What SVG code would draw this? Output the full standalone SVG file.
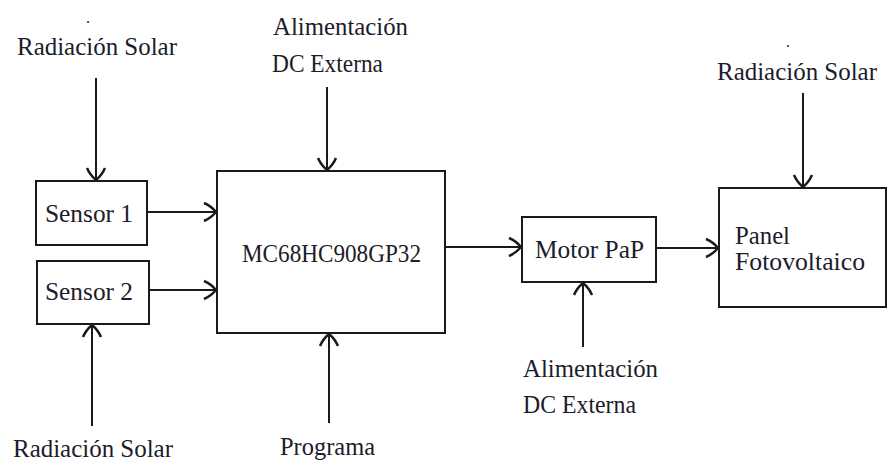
<svg xmlns="http://www.w3.org/2000/svg" width="891" height="461" viewBox="0 0 891 461">
<style>
.box{fill:#fff;stroke:#1a1a1a;stroke-width:2}
.ln{stroke:#1a1a1a;stroke-width:2;fill:none;marker-end:url(#ah)}
.t{font-family:'Liberation Serif','Times New Roman',serif;font-size:25px;fill:#1c1c2a}
</style>
<defs>
<marker id="ah" markerUnits="userSpaceOnUse" markerWidth="24" markerHeight="24" refX="13" refY="10" orient="auto" viewBox="0 0 24 20">
<path d="M1,1 Q8,4 13,10 Q8,16 1,19" fill="none" stroke="#1a1a1a" stroke-width="2.5"/>
</marker>
</defs>
<rect width="891" height="461" fill="#fff"/>
<g id="connectors">
<line class="ln" x1="96" y1="78" x2="96" y2="180"/>
<line class="ln" x1="327" y1="87" x2="327" y2="170"/>
<line class="ln" x1="803" y1="93" x2="803" y2="187"/>
<line class="ln" x1="147" y1="212" x2="216" y2="212"/>
<line class="ln" x1="149" y1="290" x2="216" y2="290"/>
<line class="ln" x1="92" y1="426" x2="92" y2="325"/>
<line class="ln" x1="329" y1="423" x2="329" y2="334"/>
<line class="ln" x1="445" y1="247" x2="521" y2="247"/>
<line class="ln" x1="656" y1="248" x2="718" y2="248"/>
<line class="ln" x1="583" y1="347" x2="583" y2="283"/>
</g>
<g id="sensor1">
<rect class="box" x="36" y="181" width="111" height="64"/>
<text class="t" x="45" y="222" textLength="88" lengthAdjust="spacingAndGlyphs">Sensor 1</text>
</g>
<g id="sensor2">
<rect class="box" x="37" y="261" width="112" height="63"/>
<text class="t" x="45" y="300" textLength="88" lengthAdjust="spacingAndGlyphs">Sensor 2</text>
</g>
<g id="mcu">
<rect class="box" x="217" y="171" width="228" height="162"/>
<text class="t" x="242" y="262" textLength="179" lengthAdjust="spacingAndGlyphs">MC68HC908GP32</text>
</g>
<g id="motor">
<rect class="box" x="522" y="217" width="134" height="65"/>
<text class="t" x="535" y="258" textLength="109" lengthAdjust="spacingAndGlyphs">Motor PaP</text>
</g>
<g id="panel">
<rect class="box" x="719" y="188" width="167" height="119"/>
<text class="t" x="735" y="244" textLength="55" lengthAdjust="spacingAndGlyphs">Panel</text>
<text class="t" x="735" y="270" textLength="130" lengthAdjust="spacingAndGlyphs">Fotovoltaico</text>
</g>
<g id="rad-top-left">
<text class="t" x="86" y="23" style="font-size:16px">.</text>
<text class="t" x="17" y="55" textLength="160" lengthAdjust="spacingAndGlyphs">Radiación Solar</text>
</g>
<g id="alim-top">
<text class="t" x="273" y="35" textLength="135" lengthAdjust="spacingAndGlyphs">Alimentación</text>
<text class="t" x="272" y="72" textLength="111" lengthAdjust="spacingAndGlyphs">DC Externa</text>
</g>
<g id="rad-top-right">
<text class="t" x="786" y="47" style="font-size:16px">.</text>
<text class="t" x="717" y="80" textLength="160" lengthAdjust="spacingAndGlyphs">Radiación Solar</text>
</g>
<g id="rad-bottom">
<text class="t" x="13" y="457" textLength="160" lengthAdjust="spacingAndGlyphs">Radiación Solar</text>
</g>
<g id="programa">
<text class="t" x="280" y="455" textLength="95" lengthAdjust="spacingAndGlyphs">Programa</text>
</g>
<g id="alim-bottom">
<text class="t" x="523" y="377" textLength="135" lengthAdjust="spacingAndGlyphs">Alimentación</text>
<text class="t" x="523" y="413" textLength="113" lengthAdjust="spacingAndGlyphs">DC Externa</text>
</g>
</svg>
